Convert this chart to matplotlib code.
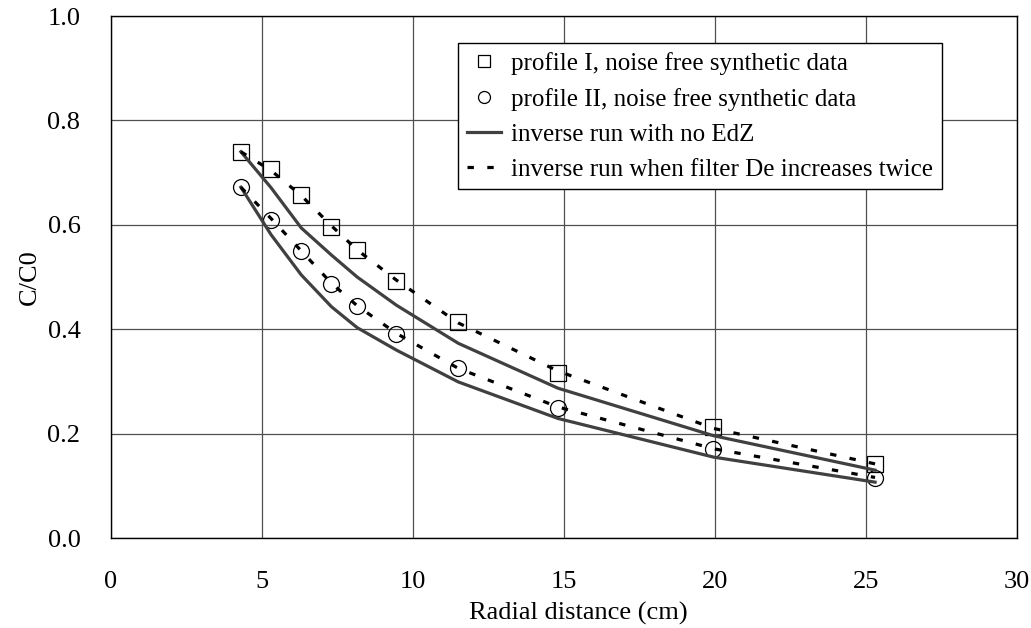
import numpy as np
import matplotlib
matplotlib.use("Agg")
import matplotlib.pyplot as plt

plt.rcParams['font.family'] = ['Liberation Serif', 'DejaVu Serif']

# radial positions of the observation points (cm)
radius = [4.3, 5.3, 6.3, 7.3, 8.15, 9.45, 11.5, 14.8, 19.95, 25.3]

# synthetic noise free data
profile_1 = [0.740, 0.706, 0.657, 0.596, 0.552, 0.492, 0.413, 0.317, 0.213, 0.142]
profile_2 = [0.672, 0.610, 0.550, 0.487, 0.444, 0.390, 0.325, 0.250, 0.170, 0.115]

# inverse run, no EdZ
no_edz_1 = [0.740, 0.671, 0.594, 0.542, 0.500, 0.446, 0.373, 0.287, 0.196, 0.130]
no_edz_2 = [0.672, 0.581, 0.504, 0.443, 0.403, 0.360, 0.299, 0.229, 0.155, 0.107]

# inverse run, filter De doubled
de_twice_1 = [0.740, 0.704, 0.656, 0.598, 0.552, 0.494, 0.412, 0.320, 0.210, 0.142]
de_twice_2 = [0.672, 0.612, 0.550, 0.488, 0.445, 0.392, 0.325, 0.251, 0.171, 0.116]

fig = plt.figure(figsize=(10.31, 6.28), dpi=100)
ax = fig.add_axes([0.1077, 0.1433, 0.8787, 0.8312])

sq, = ax.plot(radius, profile_1, ls='none', marker='s', ms=11.5, mfc='none',
              mec='black', mew=0.9, zorder=3)
ci, = ax.plot(radius, profile_2, ls='none', marker='o', ms=11.5, mfc='none',
              mec='black', mew=0.9, zorder=3)
sol, = ax.plot(radius, no_edz_1, color='#404040', lw=2.3, zorder=4)
ax.plot(radius, no_edz_2, color='#404040', lw=2.3, zorder=4)
dsh, = ax.plot(radius, de_twice_1, color='black', lw=2.3, dashes=(2, 4.2), zorder=5)
ax.plot(radius, de_twice_2, color='black', lw=2.3, dashes=(2, 4.2), zorder=5)

ax.set_xlim(0, 30)
ax.set_ylim(0, 1.0)
ax.set_xticks(np.arange(0, 31, 5))
ax.set_yticks(np.arange(0, 1.01, 0.2))
ax.set_yticklabels(['%.1f' % v for v in np.arange(0, 1.01, 0.2)])
ax.tick_params(length=0, labelsize=19)
ax.tick_params(axis='y', pad=22)
ax.tick_params(axis='x', pad=24)
ax.grid(True, color='#505050', lw=0.9)
ax.set_axisbelow(True)
for s in ax.spines.values():
    s.set_color('black')
    s.set_linewidth(1.0)

ax.set_xlabel('Radial distance (cm)', fontsize=19)
ax.xaxis.set_label_coords(0.516, -0.122)
ax.set_ylabel('C/C0', fontsize=19, labelpad=4.5)

leg = ax.legend([sq, ci, sol, dsh],
                ['profile I, noise free synthetic data',
                 'profile II, noise free synthetic data',
                 'inverse run with no EdZ',
                 'inverse run when filter De increases twice'],
                loc='upper left', bbox_to_anchor=(0.4445, 0.931),
                bbox_transform=fig.transFigure, borderaxespad=0,
                fontsize=18, fancybox=False, framealpha=1, edgecolor='black',
                handlelength=1.36, handletextpad=0.4, borderpad=0.35,
                labelspacing=0.5, markerscale=0.75)
leg.get_frame().set_linewidth(1.0)

fig.savefig('out.png', dpi=100)
